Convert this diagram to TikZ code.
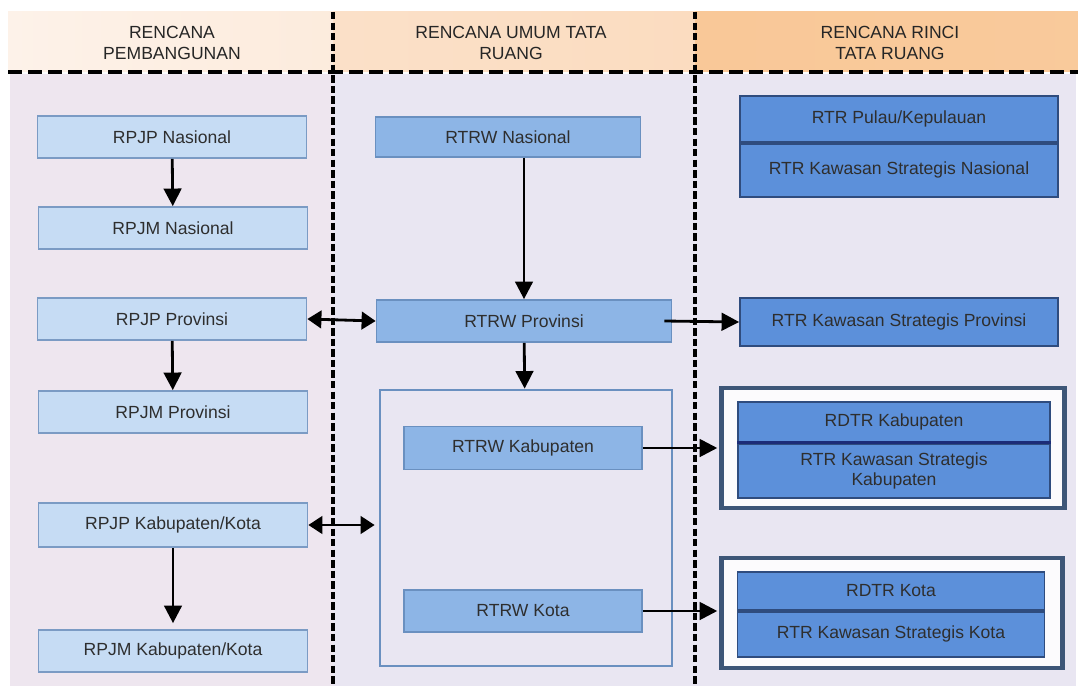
\documentclass[tikz,border=0pt]{standalone}
\usepackage{fontspec}
\setmainfont{Liberation Sans}
\usetikzlibrary{arrows.meta,calc}
\definecolor{kepalaA}{HTML}{FDF2E9}
\definecolor{kepalaB}{HTML}{FBDCC0}
\definecolor{kepalaC}{HTML}{F9C898}
\definecolor{latar}{HTML}{E9E6F2}
\definecolor{latarkiri}{HTML}{EEE6EF}
\definecolor{teks}{HTML}{2E2E2E}
\definecolor{lisi}{HTML}{C6DCF4}
\definecolor{lgaris}{HTML}{7B9BC4}
\definecolor{misi}{HTML}{8DB5E6}
\definecolor{mgaris}{HTML}{6A90C0}
\definecolor{risi}{HTML}{5C90DA}
\definecolor{rgaris}{HTML}{2F4C7E}
\definecolor{rbatas}{HTML}{1C2C78}
\definecolor{bingkai}{HTML}{3D5678}
\begin{document}
\begin{tikzpicture}[x=0.02cm,y=-0.02cm,
  every node/.style={font=\fontsize{10}{11.5}\selectfont, text=teks},
  lbox/.style={draw=lgaris, fill=lisi, line width=1pt, minimum width=5.38cm, minimum height=0.84cm, inner sep=0pt},
  mbox/.style={draw=mgaris, fill=misi, line width=1pt, minimum height=0.84cm, inner sep=0pt},
  rbox/.style={draw=rgaris, fill=risi, line width=1pt, inner sep=0pt, align=center},
  grup/.style={draw=bingkai, fill=white!85!latar, line width=2.6pt, inner sep=0pt},
  judul/.style={align=center, font=\fontsize{10}{11.5}\selectfont, text=black!85},
  panah/.style={-{Triangle[width=10pt,length=10pt]}, line width=1.6pt},
  duapanah/.style={{Triangle[width=10pt,length=8pt]}-{Triangle[width=10pt,length=8pt]}, line width=1.6pt},
  garisv/.style={line width=2.2pt, dash pattern=on 4.2pt off 1.8pt},
  garish/.style={line width=2pt, dash pattern=on 8pt off 3.4pt}]
\useasboundingbox (0,0) rectangle (1078,686);
% latar belakang
\fill[white] (0,0) rectangle (1078,686);
\fill[latar] (10,74) rectangle (1076,686);
\fill[latarkiri] (10,74) rectangle (333,686);
\shade[left color=kepalaA, right color=kepalaA!70!kepalaB] (8,12) rectangle (333,72);
\shade[left color=kepalaB!80!kepalaA, right color=kepalaB] (333,12) rectangle (695,72);
\shade[left color=kepalaC, right color=kepalaC!92!kepalaB] (695,12) rectangle (1078,72);
\node (judul1) [judul] at (172,43) {RENCANA\\PEMBANGUNAN};
\node (judul2) [judul] at (511,43) {RENCANA UMUM TATA\\RUANG};
\node (judul3) [judul] at (890,43) {RENCANA RINCI\\TATA RUANG};
\draw[garish] (8,72) -- (1078,72);
\draw[garisv] (333,12) -- (333,686);
\draw[garisv] (695,12) -- (695,686);

% kolom rencana pembangunan
\node (rpjpnas) [lbox] at (172,137) {RPJP Nasional};
\node (rpjmnas) [lbox] at (173,228) {RPJM Nasional};
\node (rpjpprov) [lbox] at (172,319) {RPJP Provinsi};
\node (rpjmprov) [lbox] at (173,412) {RPJM Provinsi};
\node (rpjpkab) [lbox, minimum height=0.88cm] at (173,525) {RPJP Kabupaten/Kota};
\node (rpjmkab) [lbox] at (173,651) {RPJM Kabupaten/Kota};

% kolom rencana umum tata ruang
\node (rtrwnas) [mbox, minimum width=5.3cm, minimum height=0.8cm] at (508,137) {RTRW Nasional};
\node (rtrwprov) [mbox, minimum width=5.9cm] at (524,321) {RTRW Provinsi};
\node (kotak) [draw=mgaris, fill=latar, line width=1.6pt, minimum width=5.84cm, minimum height=5.52cm] at (526,528) {};
\node (rtrwkab) [mbox, minimum width=4.76cm, minimum height=0.86cm] at (523,448) {RTRW Kabupaten};
\node (rtrwkota) [mbox, minimum width=4.76cm] at (523,611) {RTRW Kota};

% kolom rencana rinci tata ruang
\node (pulau) [rbox, minimum width=6.36cm, minimum height=0.92cm] at (899,119) {RTR Pulau/Kepulauan};
\node (ksn) [rbox, minimum width=6.36cm, minimum height=1.06cm, anchor=north] at (pulau.south) {RTR Kawasan Strategis Nasional};
\node (ksp) [rbox, minimum width=6.36cm, minimum height=0.96cm] at (899,322) {RTR Kawasan Strategis Provinsi};
\node (grup1) [grup, minimum width=6.86cm, minimum height=2.4cm] at (893,448) {};
\node (rdtrkab) [rbox, minimum width=6.24cm, minimum height=0.8cm] at (894,422) {RDTR Kabupaten};
\node (kskab) [rbox, minimum width=6.24cm, minimum height=1.08cm, anchor=north] at (rdtrkab.south) {RTR Kawasan Strategis\\Kabupaten};
\draw[rbatas, line width=1.6pt] (rdtrkab.south west) -- (rdtrkab.south east);
\node (grup2) [grup, minimum width=6.82cm, minimum height=2.2cm] at (892,613) {};
\node (rdtrkota) [rbox, minimum width=6.14cm, minimum height=0.76cm] at (891,591) {RDTR Kota};
\node (kskota) [rbox, minimum width=6.14cm, minimum height=0.9cm, anchor=north] at (rdtrkota.south) {RTR Kawasan Strategis Kota};

% panah
\draw[panah] (rpjpnas) -- (rpjmnas);
\draw[panah] (rpjpprov) -- (rpjmprov);
\draw[panah] (rpjpkab) -- ($(rpjmkab.north)+(0,-6)$);
\draw[panah] (rtrwnas.south -| rtrwprov.north) -- (rtrwprov.north);
\draw[panah] (rtrwprov) -- (kotak);
\draw[duapanah] (rpjpprov.east) -- (rtrwprov.west);
\draw[duapanah] (rpjpkab.east) -- ($(rpjpkab.east -| kotak.west)+(-4,0)$);
\draw[panah] ($(rtrwprov.east)+(-8,0)$) -- (ksp.west);
\draw[panah] (rtrwkab.east) -- ($(rtrwkab.east -| grup1.west)+(-2,0)$);
\draw[panah] (rtrwkota.east) -- ($(rtrwkota.east -| grup2.west)+(-2,0)$);
\end{tikzpicture}
\end{document}
